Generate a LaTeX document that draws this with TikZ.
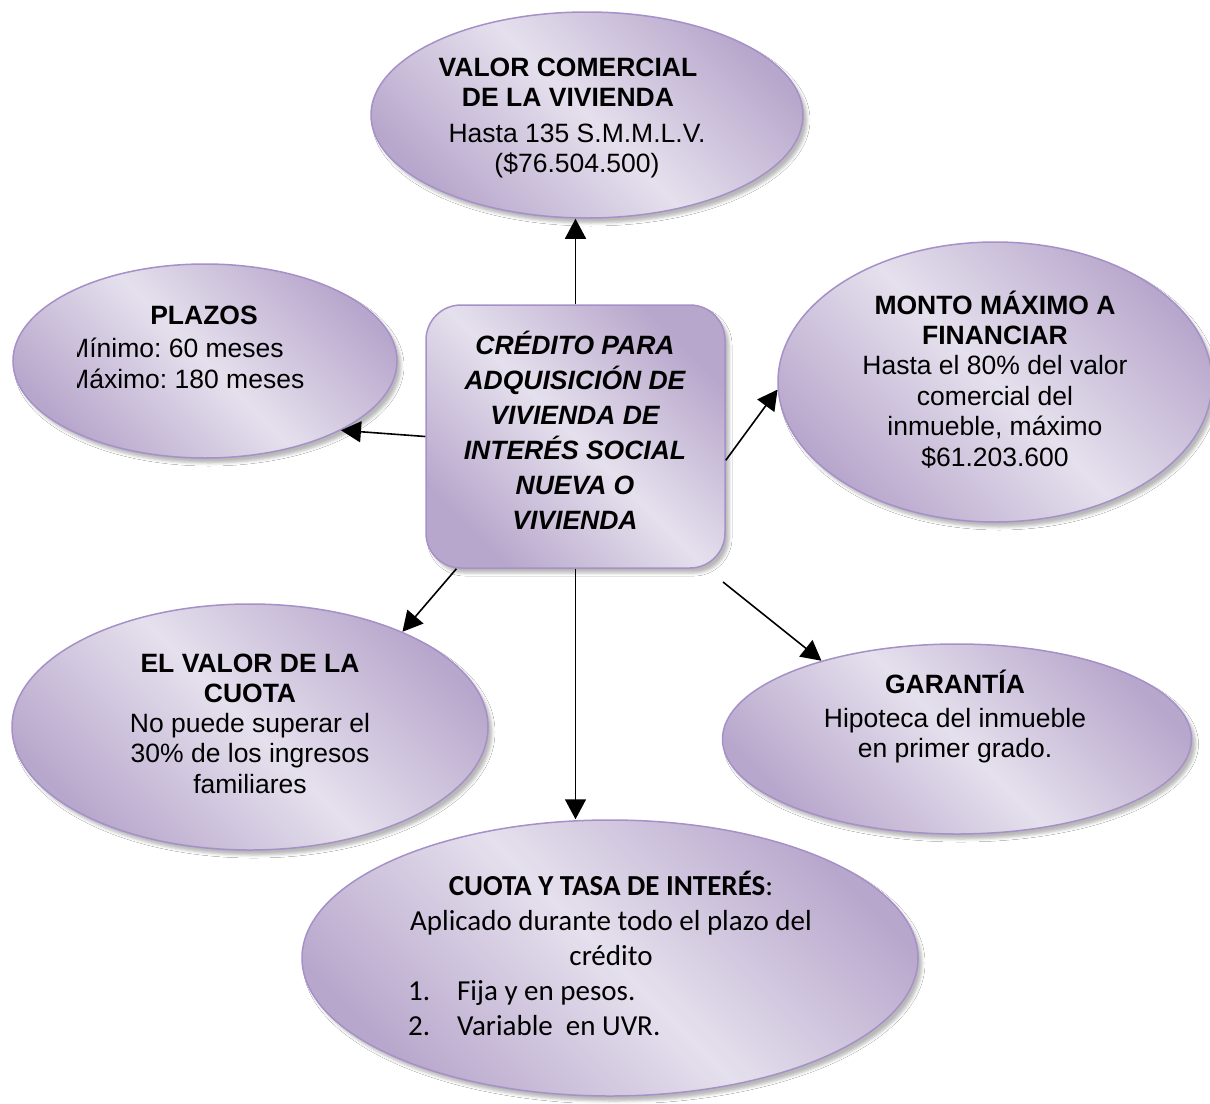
\documentclass[tikz,border=0pt]{standalone}
\usepackage{fontspec}
\setmainfont{Liberation Sans}
\newfontfamily\calibrifont{Carlito}
\usetikzlibrary{shapes.geometric,arrows.meta,shadows.blur}
\frenchspacing

\definecolor{lilaclight}{HTML}{E5E0ED}
\definecolor{lilacdark}{HTML}{B8A7CC}
\definecolor{lilacedge}{HTML}{A690C8}

% stacked lines with a fixed baseline distance; the box baseline is the first line
\newcommand\centrelines[2]{\vtop{\baselineskip=#1\relax\lineskiplimit=-\maxdimen\lineskip=0pt\halign{\hfil##\hfil\cr#2\crcr}}}
\newcommand\leftlines[2]{\vtop{\baselineskip=#1\relax\lineskiplimit=-\maxdimen\lineskip=0pt\halign{##\hfil\cr#2\crcr}}}

\tikzset{
  lilacfill/.style={draw=lilacedge, line width=1.5pt,
    top color=lilacdark, bottom color=lilacdark, middle color=lilaclight,
    shading angle=-45,
    blur shadow={shadow xshift=4pt, shadow yshift=-5pt,
      shadow blur radius=3pt, shadow opacity=28}},
  bubble/.style={ellipse, lilacfill, inner sep=0pt},
  hub/.style={rectangle, rounded corners=35pt, lilacfill, inner sep=0pt,
    minimum width=299pt, minimum height=263pt},
  txt/.style={inner sep=0pt, font=\fontsize{26.5}{30}\selectfont},
  arr/.style={draw=black, line width=1.6pt,
    -{Triangle[length=20pt,width=21pt]}},
}

\begin{document}
\begin{tikzpicture}[x=1pt, y=-1pt]
\path[use as bounding box, fill=white] (0,0) rectangle (1210,1103);

% shapes
\node[bubble, minimum width=432pt, minimum height=206pt] (valor) at (587,115) {};
\node[bubble, minimum width=384pt, minimum height=194pt] (plazos) at (205,361) {};
\node[bubble, minimum width=434pt, minimum height=280pt] (monto) at (995,382) {};
\node[bubble, minimum width=476pt, minimum height=246pt] (valorcuota) at (250,727) {};
\node[bubble, minimum width=469pt, minimum height=190pt] (garantia) at (957,739) {};
\node[bubble, minimum width=616pt, minimum height=276pt] (cuota) at (610,958) {};
\node[hub] (credito) at (575.5,436.5) {};

% connectors
\coordinate (garantia-from) at (723,582);
\draw[arr] (credito.north) -- (credito.north |- valor.south);
\draw[arr] (credito.west) -- (plazos.-27);
\draw[arr] (credito.-9) -- (monto.182);
\draw[arr] (credito.-132) -- (valorcuota.32);
\draw[arr] (credito.south) -- (credito.south |- cuota.north);
\draw[arr] (garantia-from) -- (garantia.150);

% texts
\node[txt, anchor=base] (valor-t) at (572,76)
  {\centrelines{30pt}{\bfseries VALOR COMERCIAL\hskip8pt\cr
    \bfseries DE LA VIVIENDA\hskip8pt\cr\noalign{\vskip6pt}
    \hskip10pt Hasta 135 S.M.M.L.V.\cr \hskip10pt(\$76.504.500)\cr}};

\node[txt, anchor=base, font=\fontsize{26.5}{30}\selectfont\bfseries] (plazos-t) at (204,324) {PLAZOS};
\begin{scope}
  \clip (77,330) rectangle (400,400);
  \node[txt, anchor=base west] (plazos-body) at (67,357)
    {\leftlines{31pt}{Mínimo: 60 meses\cr Máximo: 180 meses\cr}};
\end{scope}

\node[txt, anchor=base, font=\fontsize{26.5}{35}\selectfont\bfseries\itshape] (credito-t) at (575,354)
  {\centrelines{35pt}{CRÉDITO PARA\cr ADQUISICIÓN DE\cr VIVIENDA DE\cr
    INTERÉS SOCIAL\cr NUEVA O\cr VIVIENDA\cr}};

\node[txt, anchor=base] (monto-t) at (995,314)
  {\centrelines{30.4pt}{\bfseries MONTO MÁXIMO A\cr \bfseries FINANCIAR\cr
    Hasta el 80\% del valor\cr comercial del\cr inmueble, máximo\cr \$61.203.600\cr}};

\node[txt, anchor=base] (valorcuota-t) at (250,672)
  {\centrelines{30.25pt}{\bfseries EL VALOR DE LA\cr \bfseries CUOTA\cr
    No puede superar el\cr 30\% de los ingresos\cr familiares\cr}};

\node[txt, anchor=base] (garantia-t) at (955,693)
  {\centrelines{30pt}{\bfseries GARANTÍA\cr\noalign{\vskip4pt}
    Hipoteca del inmueble\cr en primer grado.\cr}};

\node[txt, anchor=base, font=\calibrifont\fontsize{29}{35}\selectfont] (cuota-t) at (611,895)
  {\centrelines{35pt}{{\bfseries CUOTA Y TASA DE INTERÉS}:\cr
    Aplicado durante todo el plazo del\cr crédito\cr}};
\node[txt, anchor=base west, font=\calibrifont\fontsize{29}{35}\selectfont] (cuota-list) at (408,1000)
  {\leftlines{35pt}{\hbox to 49pt{1.\hfil}Fija y en pesos.\cr
    \hbox to 49pt{2.\hfil}Variable\ \ en UVR.\cr}};
\end{tikzpicture}
\end{document}
